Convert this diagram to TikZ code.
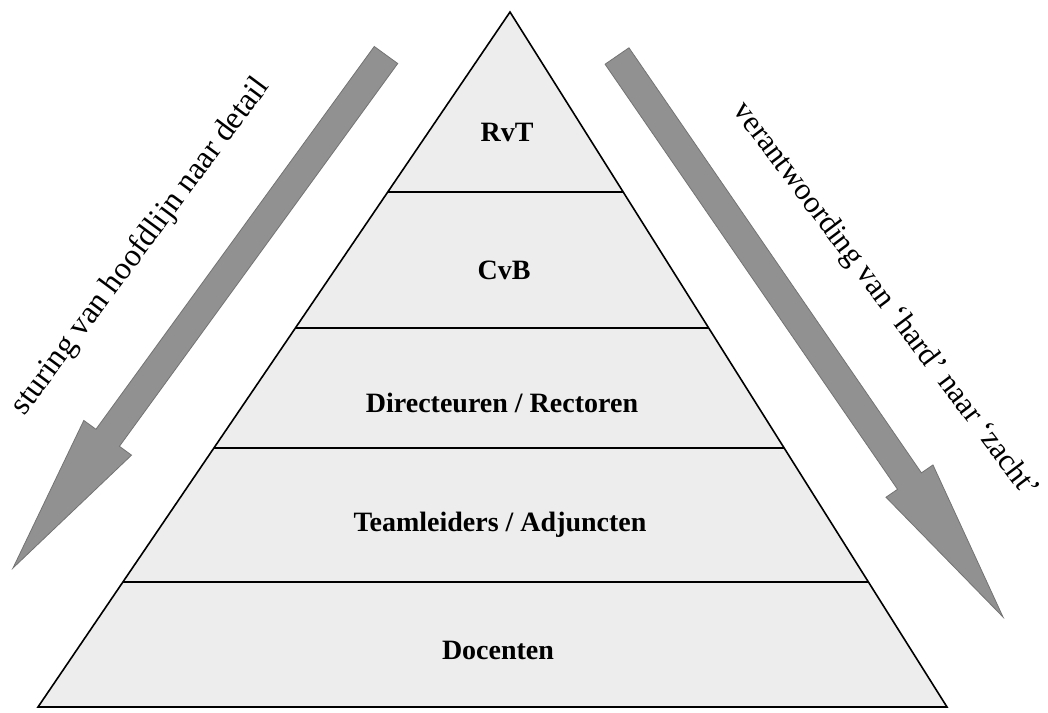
\documentclass[tikz,border=0pt]{standalone}
\usepackage{fontspec}
\setmainfont{Liberation Serif}
\usetikzlibrary{calc}

\tikzset{
  layer/.style={font=\fontsize{28}{32}\selectfont\bfseries, inner sep=0pt},
  sidetext/.style={font=\fontsize{32}{36}\selectfont, inner sep=0pt},
  blockarrow/.style={fill=black!43, draw=black!55, line width=0.8pt, line join=miter},
  outline/.style={draw=black, line width=1.6pt, line join=miter},
  divider/.style={draw=black, line width=2pt}
}

\begin{document}
\begin{tikzpicture}[x=1pt, y=-1pt]
  \useasboundingbox (0,0) rectangle (1048,712);

  % pyramid corners
  \coordinate (apex) at (510,12);
  \coordinate (bl) at (38,707);
  \coordinate (br) at (947,707);

  \fill[black!7] (apex) -- (bl) -- (br) -- cycle;

  % level dividers, from the left edge to the right edge
  \foreach \f [count=\i] in {0.259,0.4547,0.6273,0.8201} {
    \coordinate (dl\i) at ($(apex)!\f!(bl)$);
    \coordinate (dr\i) at ($(apex)!\f!(br)$);
    \draw[divider] (dl\i) -- (dr\i);
  }

  \draw[outline] (apex) -- (bl) -- (br) -- cycle;

  % level names
  \node[layer] (rvt) at (507,132) {RvT};
  \node[layer] (cvb) at (504,270) {CvB};
  \node[layer] (dir) at (502,403) {Directeuren / Rectoren};
  \node[layer] (team) at (500,525) {Teamleiders / Adjuncten};
  \node[layer] (doc) at (498,650) {Docenten};

  % left block arrow
  \coordinate (ls) at (386,55);
  \coordinate (lt) at (13,568);
  \coordinate (lh) at ($(lt)!161pt!(ls)$);
  \draw[blockarrow]
    ($(ls)!14.5pt!90:(lt)$) -- ($(lh)!14.5pt!90:(lt)$) -- ($(lh)!29.5pt!90:(lt)$)
    -- (lt)
    -- ($(lh)!29.5pt!-90:(lt)$) -- ($(lh)!14.5pt!-90:(lt)$) -- ($(ls)!14.5pt!-90:(lt)$)
    -- cycle;

  % right block arrow
  \coordinate (rs) at (617,56);
  \coordinate (rt) at (1003,617);
  \coordinate (rh) at ($(rt)!165pt!(rs)$);
  \draw[blockarrow]
    ($(rs)!14.5pt!90:(rt)$) -- ($(rh)!14.5pt!90:(rt)$) -- ($(rh)!28.5pt!90:(rt)$)
    -- (rt)
    -- ($(rh)!28.5pt!-90:(rt)$) -- ($(rh)!14.5pt!-90:(rt)$) -- ($(rs)!14.5pt!-90:(rt)$)
    -- cycle;

  % side captions
  \node[sidetext, rotate=53.4] (lcap) at (141,247) {sturing van hoofdlijn naar detail};
  \node[sidetext, font=\fontsize{31}{35}\selectfont, rotate=-53] (rcap) at (885,301)
    {verantwoording van ‘hard’ naar ‘zacht’};
\end{tikzpicture}
\end{document}
